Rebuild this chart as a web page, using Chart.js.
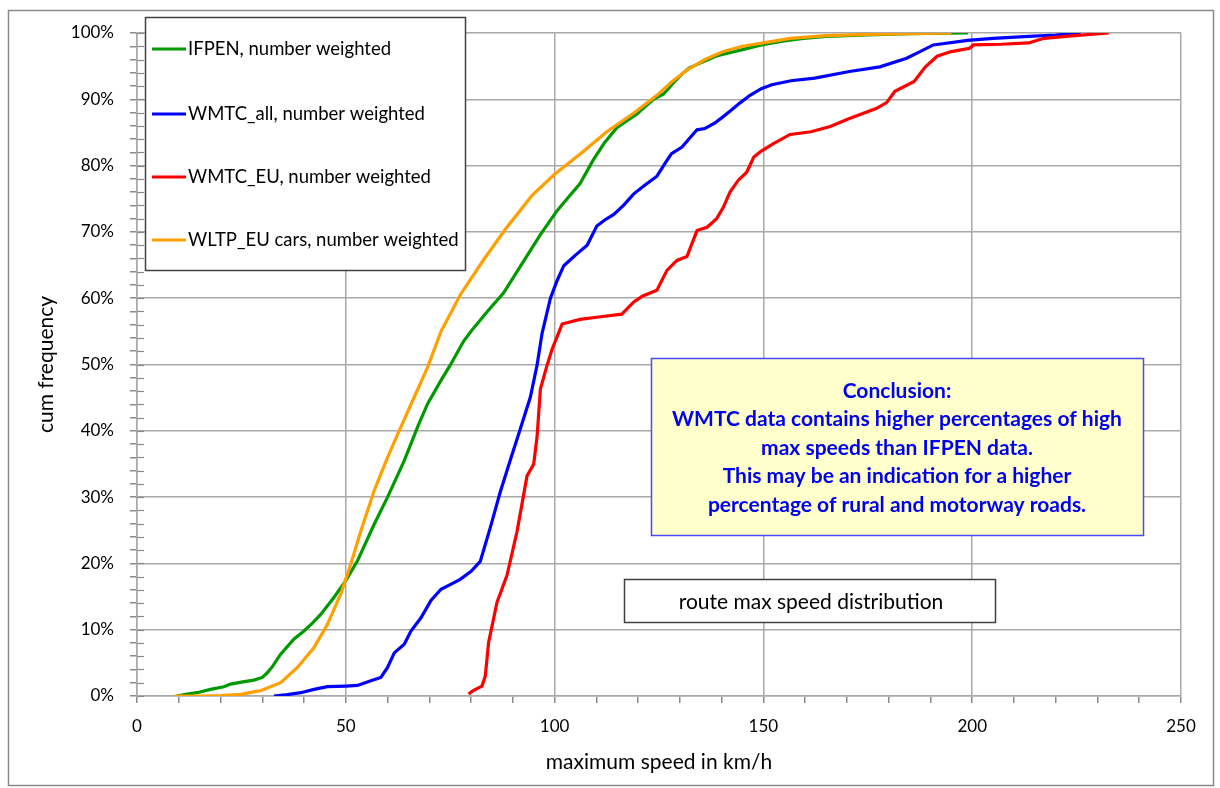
<!DOCTYPE html>
<html>
<head>
<meta charset="utf-8">
<script src="https://cdn.jsdelivr.net/npm/chart.js@4.4.0/dist/chart.umd.min.js"></script>
<style>
  body { margin: 0; background: #fff; }
  canvas { display: block; }
</style>
</head>
<body>
<canvas id="speedChart" width="1220" height="788"></canvas>
<script>
// cumulative distribution of route max speeds (km/h, %)
const ifpenSpeed = [9.5, 12, 14.4, 17.6, 20.8, 22.4, 25, 28, 30, 31.2, 32.5, 34.4, 37.6, 40, 42, 44, 47.2, 50, 52.8, 56.8, 60, 64, 67.2, 69.6, 72.8, 75, 78.2, 80, 83.9, 87.8, 91.8, 96.6, 100.6, 103, 106.1, 109.3, 112, 114.9, 119.7, 123.7, 126.1, 128.5, 130.5, 132.2, 135, 138.6, 140.4, 145, 149.5, 155, 159.6, 165, 175, 185, 199];
const ifpenCum = [0, 0.3, 0.5, 1.0, 1.4, 1.8, 2.1, 2.4, 2.8, 3.5, 4.5, 6.3, 8.6, 9.8, 11, 12.3, 14.9, 17.4, 20.4, 25.9, 30, 35.5, 40.6, 44.1, 47.6, 49.9, 53.5, 55, 58, 60.8, 64.8, 69.6, 73.2, 75, 77.3, 80.9, 83.5, 85.7, 87.8, 90, 90.8, 92.5, 93.8, 94.7, 95.5, 96.5, 96.8, 97.5, 98.2, 98.8, 99.2, 99.5, 99.7, 99.9, 100];

const wmtcAllSpeed = [32.8, 36, 39.2, 42.4, 45.6, 50, 52.8, 56, 58.4, 60, 61.6, 64, 65.6, 68, 70.4, 72.8, 75, 77.4, 80, 82.2, 84.6, 87, 89.4, 91.8, 94.2, 95.8, 97, 99, 100.5, 102.2, 105, 107.8, 110.1, 112, 114.1, 116.5, 118.9, 121.5, 124.5, 126.9, 128, 130.5, 134.1, 136, 138.3, 140, 142.2, 144.5, 146.8, 149.5, 152, 156.6, 162.3, 170.6, 177.9, 184.3, 187.5, 190.7, 198.9, 205, 213.5, 220, 226];
const wmtcAllCum = [0, 0.2, 0.5, 1.0, 1.4, 1.5, 1.6, 2.3, 2.8, 4.3, 6.5, 7.8, 9.8, 11.8, 14.4, 16.1, 16.8, 17.6, 18.8, 20.3, 25.4, 30.8, 35.6, 40.3, 45.1, 49.9, 54.7, 60, 62.5, 64.9, 66.5, 68, 70.9, 71.8, 72.6, 74, 75.7, 77, 78.4, 80.8, 81.8, 82.8, 85.4, 85.6, 86.4, 87.2, 88.3, 89.5, 90.6, 91.6, 92.2, 92.8, 93.2, 94.2, 94.9, 96.2, 97.2, 98.2, 98.9, 99.2, 99.5, 99.7, 100];

const wmtcEuSpeed = [79.4, 80.5, 82.6, 83.4, 84.2, 86.2, 88.6, 91, 93.4, 95, 95.8, 96.6, 98.2, 99.4, 100.6, 101.8, 106.1, 111, 116.1, 118.9, 121, 124.5, 126.9, 129.3, 131.7, 134.1, 136.5, 138.8, 140.4, 142, 144, 146, 147.7, 149.5, 152.4, 156.4, 161.4, 166, 170.6, 177, 179.5, 181.5, 186.1, 188.8, 191.6, 195, 199.4, 200.3, 207, 213.5, 217.2, 224.5, 232.7];
const wmtcEuCum = [0.3, 0.8, 1.5, 3, 8.1, 14.1, 18.2, 24.8, 33.2, 35, 39.1, 46.3, 49.9, 52.3, 54.2, 56.1, 56.8, 57.2, 57.6, 59.4, 60.3, 61.2, 64.2, 65.7, 66.3, 70.2, 70.7, 72, 73.7, 76, 77.8, 79, 81.3, 82.2, 83.3, 84.7, 85.1, 85.9, 87.1, 88.6, 89.5, 91.2, 92.7, 94.9, 96.5, 97.2, 97.7, 98.2, 98.3, 98.5, 99.2, 99.6, 100];

const wltpSpeed = [9, 15, 20, 24.8, 29.6, 34.4, 38.4, 42.4, 45.6, 48.8, 51.2, 53.6, 56.8, 60, 63.2, 66.4, 69.6, 72.8, 77.5, 83, 88.2, 94.6, 100, 106.2, 112.5, 118.9, 124.5, 128, 131.7, 136, 140.4, 145, 150, 156.4, 165, 175, 185, 195];
const wltpCum = [0, 0, 0.05, 0.25, 0.8, 2.0, 4.3, 7.3, 10.8, 15.4, 19.9, 24.9, 31, 36, 40.6, 45.1, 49.6, 55, 60.6, 65.8, 70.4, 75.5, 78.7, 81.8, 85.1, 87.9, 90.6, 92.6, 94.4, 96, 97.2, 98, 98.5, 99.2, 99.6, 99.8, 99.9, 100];

const seriesLabels = ['IFPEN, number weighted', 'WMTC_all, number weighted', 'WMTC_EU, number weighted', 'WLTP_EU cars, number weighted'];

const conclusionLines = ['Conclusion:', 'WMTC data contains higher percentages of high', 'max speeds than IFPEN data.', 'This may be an indication for a higher', 'percentage of rural and motorway roads.'];
const boxTitle = 'route max speed distribution';

const FONT = 'Lato';
const gridGray = '#a9a9a9';

function toPoints(speed, cum) {
    return speed.map((s, i) => ({ x: s, y: cum[i] }));
}

function makeSet(label, speed, cum, color, order) {
    return {
        label: label,
        data: toPoints(speed, cum),
        borderColor: color,
        backgroundColor: color,
        borderWidth: 3.2,
        pointRadius: 0,
        showLine: true,
        tension: 0,
        order: order
    };
}

// outer frame + inner half of the y ticks
const framePlugin = {
    id: 'frame',
    beforeDraw(chart) {
        const ctx = chart.ctx;
        ctx.save();
        ctx.fillStyle = '#fff';
        ctx.fillRect(0, 0, chart.width, chart.height);
        ctx.strokeStyle = '#8a8a8a';
        ctx.lineWidth = 1.5;
        ctx.strokeRect(8.5, 10.5, 1205, 775);
        ctx.restore();
    },
    afterDraw(chart) {
        const ctx = chart.ctx;
        const y = chart.scales.y;
        const left = chart.chartArea.left;
        ctx.save();
        ctx.strokeStyle = '#8a8a8a';
        ctx.lineWidth = 1.2;
        for (let v = 0; v <= 100; v += 2) {
            const py = Math.round(y.getPixelForValue(v)) + 0.5;
            ctx.beginPath();
            ctx.moveTo(left, py);
            ctx.lineTo(left + 7, py);
            ctx.stroke();
        }
        ctx.restore();
    }
};

// legend box and the two text boxes
const notesPlugin = {
    id: 'notes',
    afterDraw(chart) {
        const ctx = chart.ctx;
        ctx.save();

        // legend
        ctx.fillStyle = '#fff';
        ctx.fillRect(145, 17, 320, 253);
        ctx.strokeStyle = '#404040';
        ctx.lineWidth = 1.5;
        ctx.strokeRect(145.5, 17.5, 320, 253);
        const rows = [49, 114, 177, 240];
        chart.data.datasets.forEach((ds, i) => {
            ctx.strokeStyle = ds.borderColor;
            ctx.lineWidth = 3;
            ctx.beginPath();
            ctx.moveTo(152, rows[i]);
            ctx.lineTo(186, rows[i]);
            ctx.stroke();
            ctx.fillStyle = '#000';
            ctx.font = '18.5px ' + FONT;
            ctx.textAlign = 'left';
            ctx.textBaseline = 'middle';
            ctx.fillText(ds.label, 188, rows[i]);
        });

        // conclusion box
        ctx.fillStyle = '#ffffcc';
        ctx.fillRect(651, 358, 492, 177);
        ctx.strokeStyle = '#4848ff';
        ctx.lineWidth = 1.5;
        ctx.strokeRect(651.5, 358.5, 492, 177);
        ctx.fillStyle = '#0000f0';
        ctx.font = 'bold 21px ' + FONT;
        ctx.textAlign = 'center';
        ctx.textBaseline = 'middle';
        conclusionLines.forEach((t, i) => {
            ctx.fillText(t, 897, 391 + i * 28.5);
        });

        // title box
        ctx.fillStyle = '#fff';
        ctx.fillRect(624, 579, 371, 43);
        ctx.strokeStyle = '#404040';
        ctx.strokeRect(624.5, 579.5, 371, 43);
        ctx.fillStyle = '#000';
        ctx.font = '21px ' + FONT;
        ctx.fillText(boxTitle, 811, 602);

        ctx.restore();
    }
};

new Chart(document.querySelector('#speedChart'), {
    type: 'scatter',
    data: {
        datasets: [
            makeSet(seriesLabels[0], ifpenSpeed, ifpenCum, '#009a00', 3),
            makeSet(seriesLabels[1], wmtcAllSpeed, wmtcAllCum, '#0000ff', 2),
            makeSet(seriesLabels[2], wmtcEuSpeed, wmtcEuCum, '#ff0000', 1),
            makeSet(seriesLabels[3], wltpSpeed, wltpCum, '#ffa000', 0)
        ]
    },
    options: {
        responsive: false,
        animation: false,
        devicePixelRatio: 1,
        layout: { padding: { top: 33, right: 39, bottom: 0, left: 0 } },
        plugins: {
            legend: { display: false },
            tooltip: { enabled: false }
        },
        scales: {
            x: {
                type: 'linear',
                min: 0,
                max: 250,
                afterFit: (s) => { s.height = 92; },
                border: { color: gridGray, width: 1.5 },
                grid: {
                    color: (c) => (c.tick && c.tick.value % 50 === 0) ? gridGray : 'rgba(0,0,0,0)',
                    tickColor: '#8a8a8a',
                    tickLength: 7,
                    lineWidth: 1.5
                },
                ticks: {
                    stepSize: 10,
                    autoSkip: false,
                    maxRotation: 0,
                    padding: 13,
                    color: '#000',
                    font: { family: FONT, size: 17 },
                    callback: (v) => v % 50 === 0 ? v : ''
                },
                title: {
                    display: true,
                    text: 'maximum speed in km/h',
                    color: '#000',
                    font: { family: FONT, size: 21 },
                    padding: { top: 0, bottom: 13 }
                }
            },
            y: {
                min: 0,
                max: 100,
                afterFit: (s) => { s.width = 137; },
                border: { color: gridGray, width: 1.5 },
                grid: {
                    color: (c) => (c.tick && c.tick.value % 10 === 0) ? gridGray : 'rgba(0,0,0,0)',
                    tickColor: '#8a8a8a',
                    tickLength: 7,
                    lineWidth: 1.5
                },
                ticks: {
                    stepSize: 2,
                    autoSkip: false,
                    padding: 16,
                    color: '#000',
                    font: { family: FONT, size: 17 },
                    callback: (v) => v % 10 === 0 ? v + '%' : ''
                },
                title: {
                    display: true,
                    text: 'cum frequency',
                    color: '#000',
                    font: { family: FONT, size: 21 },
                    padding: { top: 34, bottom: 0 }
                }
            }
        }
    },
    plugins: [framePlugin, notesPlugin]
});
</script>
</body>
</html>
